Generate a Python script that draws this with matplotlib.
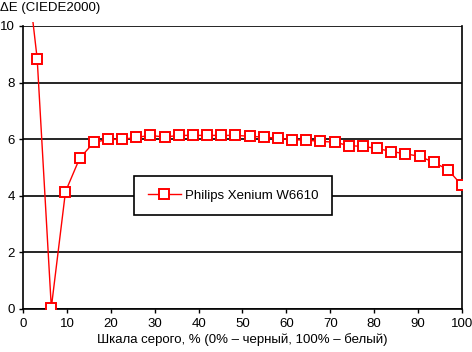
import numpy as np
import matplotlib
matplotlib.use("Agg")
import matplotlib.pyplot as plt
from matplotlib.patches import Rectangle

plt.rcParams['font.family'] = ['Liberation Sans', 'DejaVu Sans']

gray_level = [i * 100 / 31 for i in range(32)]
delta_e = [13.2, 8.85, 0.04, 4.14, 5.32, 5.88, 5.99, 5.99, 6.06, 6.13,
           6.07, 6.13, 6.13, 6.13, 6.13, 6.13, 6.10, 6.07, 6.03, 5.98,
           5.96, 5.92, 5.89, 5.77, 5.74, 5.67, 5.56, 5.48, 5.39, 5.18,
           4.92, 4.36]
series_name = "Philips Xenium W6610"
x_ticks = list(range(0, 101, 10))
y_ticks = list(range(0, 11, 2))

FS = 9.5

fig = plt.figure(figsize=(4.72, 3.52), dpi=100)
ax = fig.add_axes([23/472, 1 - 308.7/352, (462 - 23)/472, (308.7 - 26)/352])

ax.set_xlim(0, 100)
ax.set_ylim(0, 10)
for y in y_ticks:
    ax.axhline(y, color='black', lw=1.2, zorder=1)

line, = ax.plot(gray_level, delta_e, color='#ff0000', lw=1.0, marker='s',
                markersize=7, markerfacecolor='white', markeredgecolor='#ff0000',
                markeredgewidth=1.4, zorder=3, label=series_name)
clip = Rectangle((0, 0), 1, 1.015, transform=ax.transAxes)
line.set_clip_path(clip)

for s in ['left', 'right', 'bottom']:
    ax.spines[s].set_color('black')
    ax.spines[s].set_linewidth(1.2)
ax.spines['top'].set_visible(False)

ax.set_xticks(x_ticks)
ax.set_yticks(y_ticks)
ax.tick_params(axis='both', direction='out', length=3, width=1.0, colors='black', labelsize=FS)
ax.tick_params(axis='x', pad=4)
ax.tick_params(axis='y', pad=3)

ax.set_xlabel("Шкала серого, % (0% – черный, 100% – белый)", fontsize=FS, labelpad=2)
fig.text(0.0, 1 - 8/352, "ΔE (CIEDE2000)", fontsize=FS, ha='left', va='center')

leg = ax.legend(loc='center', bbox_to_anchor=((136.7 + 329)/2/472, 1 - 195.5/352),
                bbox_transform=fig.transFigure, frameon=True, fancybox=False,
                edgecolor='black', fontsize=FS, borderpad=1.05, handlelength=2.5,
                handletextpad=0.3, borderaxespad=0)
leg.get_frame().set_linewidth(1.2)
leg.get_frame().set_alpha(1)
leg.set_zorder(5)

fig.savefig("out.png", dpi=100)
